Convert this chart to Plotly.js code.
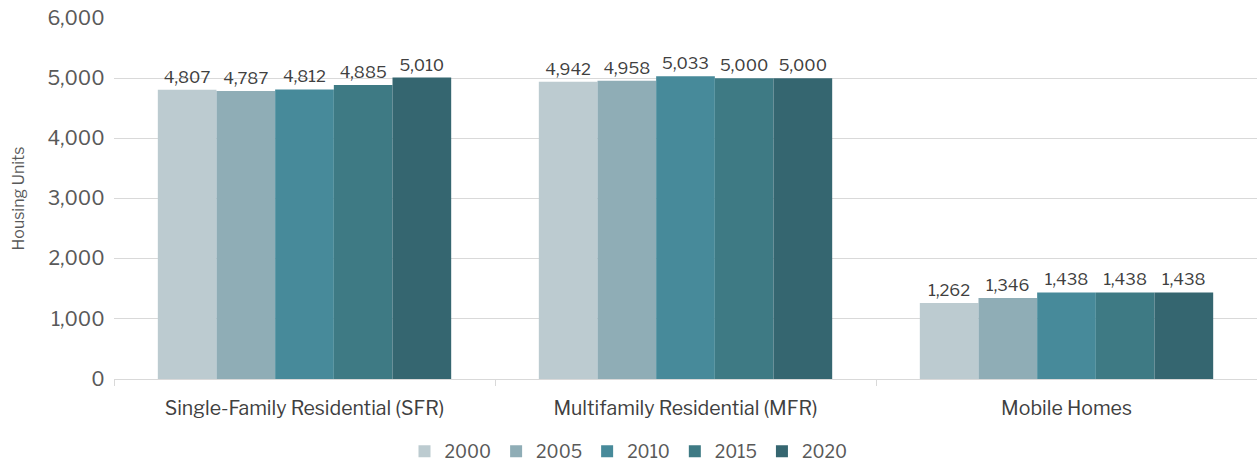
<!DOCTYPE html>
<html><head><meta charset="utf-8">
<script src="https://cdn.plot.ly/plotly-3.0.1.min.js"></script>
<style>html,body{margin:0;padding:0;background:#fff;}#chart{width:1257px;height:463px;}</style>
</head><body><div id="chart"></div>
<script>
const categories = ["Single-Family Residential (SFR)", "Multifamily Residential (MFR)", "Mobile Homes"];
const years = ["2000", "2005", "2010", "2015", "2020"];
const v2000 = [4807, 4942, 1262];
const v2005 = [4787, 4958, 1346];
const v2010 = [4812, 5033, 1438];
const v2015 = [4885, 5000, 1438];
const v2020 = [5010, 5000, 1438];
const seriesValues = [v2000, v2005, v2010, v2015, v2020];
const colors = ["#BCCBD0", "#8FADB6", "#478A9A", "#3E7A84", "#356670"];
const font = "Libre Franklin, Liberation Sans, Arial, sans-serif";
const traces = years.map((y, i) => ({
  type: "bar", name: y, x: categories, y: seriesValues[i],
  marker: {color: colors[i], line: {width: 0}},
  text: seriesValues[i].map(v => v.toLocaleString("en-US")),
  textposition: "outside", cliponaxis: false,
  textfont: {family: font, size: 16.5, color: "#404040"},
  hoverinfo: "none"
}));
const layout = {
  width: 1257, height: 463,
  margin: {l: 114, r: 0, t: 18, b: 84},
  paper_bgcolor: "#fff", plot_bgcolor: "#fff",
  barmode: "group", bargap: 0.23, bargroupgap: 0,
  font: {family: font, color: "#595959"},
  xaxis: {
    showline: true, linecolor: "#d9d9d9", linewidth: 1,
    ticks: "outside", tickson: "boundaries", ticklen: 6, tickcolor: "#d9d9d9",
    ticklabelstandoff: 12,
    tickfont: {size: 19.5, color: "#404040"}, showgrid: false
  },
  yaxis: {
    range: [0, 6000], dtick: 1000, tickformat: ",d",
    gridcolor: "#d9d9d9", gridwidth: 1, zeroline: false,
    tickfont: {size: 19.5, color: "#595959"}, ticksuffix: "  ",
    title: {text: "Housing Units", font: {size: 16, color: "#595959"}, standoff: 18}
  },
  legend: {orientation: "h", x: 0.5, xanchor: "center", xref: "container",
           y: 0.025, yref: "container", yanchor: "middle",
           font: {size: 17.5, color: "#595959"}, itemwidth: 30, traceorder: "normal"},
  showlegend: true
};
Plotly.newPlot("chart", traces, layout, {displayModeBar: false, staticPlot: true});
</script></body></html>
